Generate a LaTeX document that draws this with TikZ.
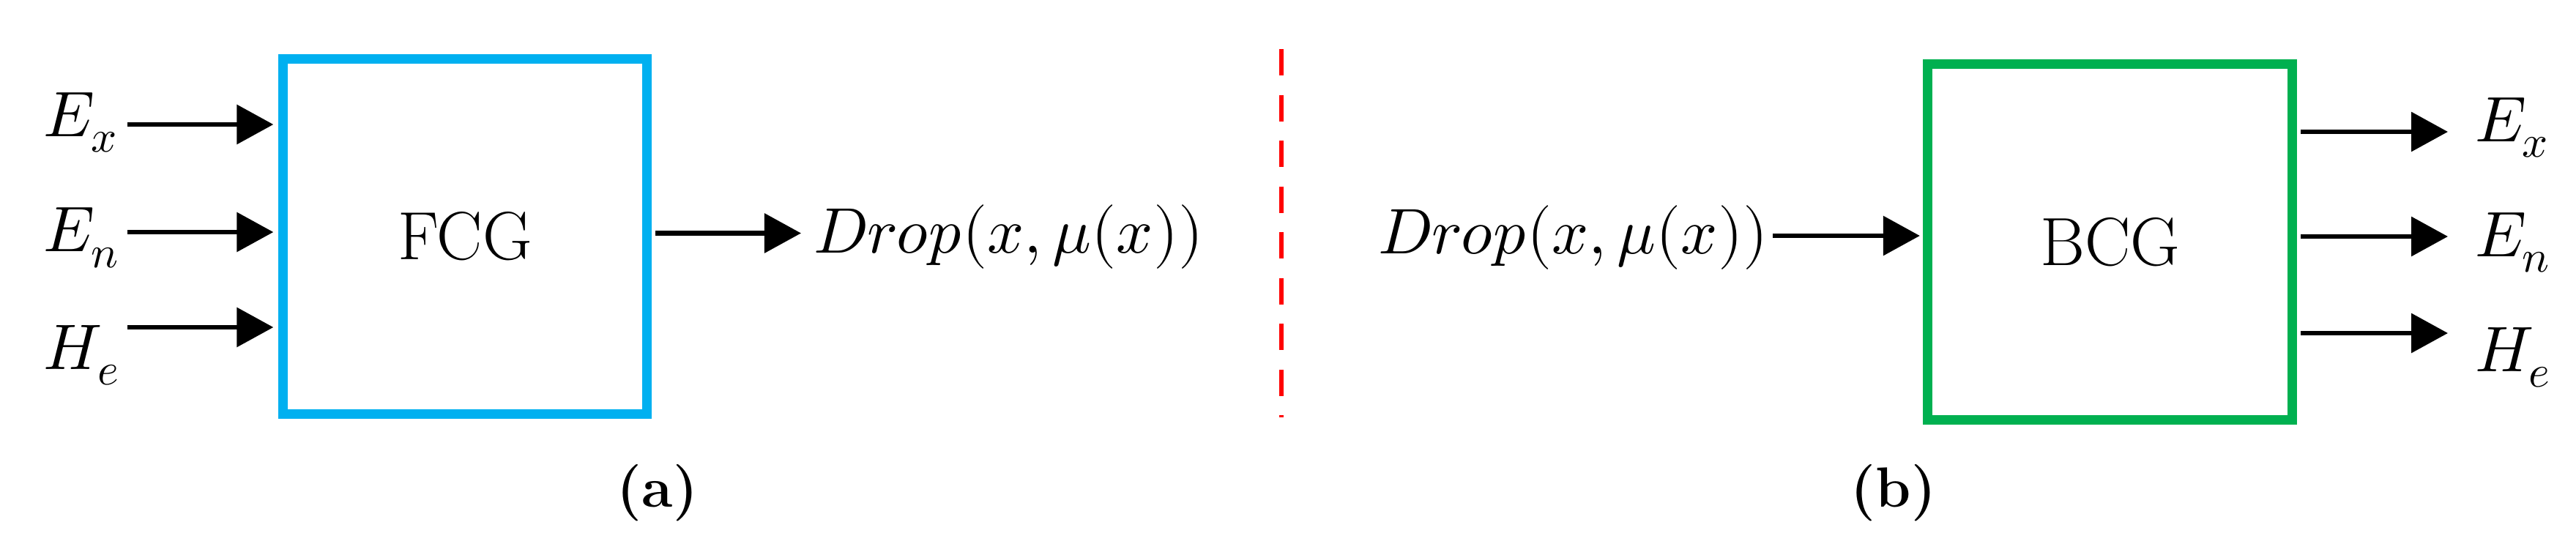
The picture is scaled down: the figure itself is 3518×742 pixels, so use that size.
\documentclass[tikz,border=0pt]{standalone}
\usepackage{unicode-math}
\setmathfont{Latin Modern Math}
\usetikzlibrary{arrows.meta}
\definecolor{fcgblue}{RGB}{0,176,240}
\definecolor{bcggreen}{RGB}{0,176,80}
\tikzset{
 blockbox/.style={draw, line width=0.13cm, minimum width=4.97cm, minimum height=4.85cm, inner sep=0pt, outer sep=0pt, font=\fontsize{26.5}{30}\selectfont},
 lbl/.style={inner sep=0pt, outer sep=0pt, anchor=base west, font=\fontsize{25}{30}\selectfont},
 arr/.style={line width=0.065cm, -{Triangle[length=0.5cm,width=0.53cm]}},
 caption/.style={font=\fontsize{22}{26}\selectfont\bfseries},
 divider/.style={draw=red, line width=0.06cm, dash pattern=on 0.36cm off 0.265cm}
}
\begin{document}
\begin{tikzpicture}[x=0.01cm,y=-0.01cm]
\useasboundingbox (0,0) rectangle (3518,742);
% boxes
\node[blockbox, draw=fcgblue] (fcg) at (635,323) {FCG};
\node[blockbox, draw=bcggreen] (bcg) at (2881.5,330.5) {BCG};
% left inputs
\node[lbl] (lex) at (60,186) {$E_x$};
\node[lbl] (len) at (60,343.5) {$E_n$};
\node[lbl] (lhe) at (60,504) {$H_e$};
\coordinate (iex) at (174,170);
\coordinate (ien) at (174,317);
\coordinate (ihe) at (174,447);
\draw[arr, shorten >=0.13cm] (iex) -- (iex -| fcg.west);
\draw[arr, shorten >=0.13cm] (ien) -- (ien -| fcg.west);
\draw[arr, shorten >=0.13cm] (ihe) -- (ihe -| fcg.west);
% FCG output
\node[lbl] (d1) at (1111,345) {$Drop(x,\mu(x))$};
\coordinate (o1) at (896,318.5);
\draw[arr, shorten <=0.115cm, shorten >=0.17cm] (fcg.east |- o1) -- (d1.west |- o1);
% divider
\coordinate (dtop) at (1750,67);
\coordinate (dbot) at (1750,570);
\draw[divider] (dtop) -- (dbot);
% BCG input
\node[lbl] (d2) at (1882,346) {$Drop(x,\mu(x))$};
\coordinate (i2) at (2421,322);
\draw[arr, shorten >=0.11cm] (i2) -- (i2 -| bcg.west);
% BCG outputs
\node[lbl] (rex) at (3380,193) {$E_x$};
\node[lbl] (ren) at (3380,350) {$E_n$};
\node[lbl] (rhe) at (3380,507) {$H_e$};
\coordinate (oex) at (3343,180);
\coordinate (oen) at (3343,323);
\coordinate (ohe) at (3343,455);
\draw[arr, shorten <=0.12cm] (bcg.east |- oex) -- (oex);
\draw[arr, shorten <=0.12cm] (bcg.east |- oen) -- (oen);
\draw[arr, shorten <=0.12cm] (bcg.east |- ohe) -- (ohe);
% captions
\node[caption] (capa) at (898,673) {(a)};
\node[caption] (capb) at (2586,673) {(b)};
\end{tikzpicture}
\end{document}
